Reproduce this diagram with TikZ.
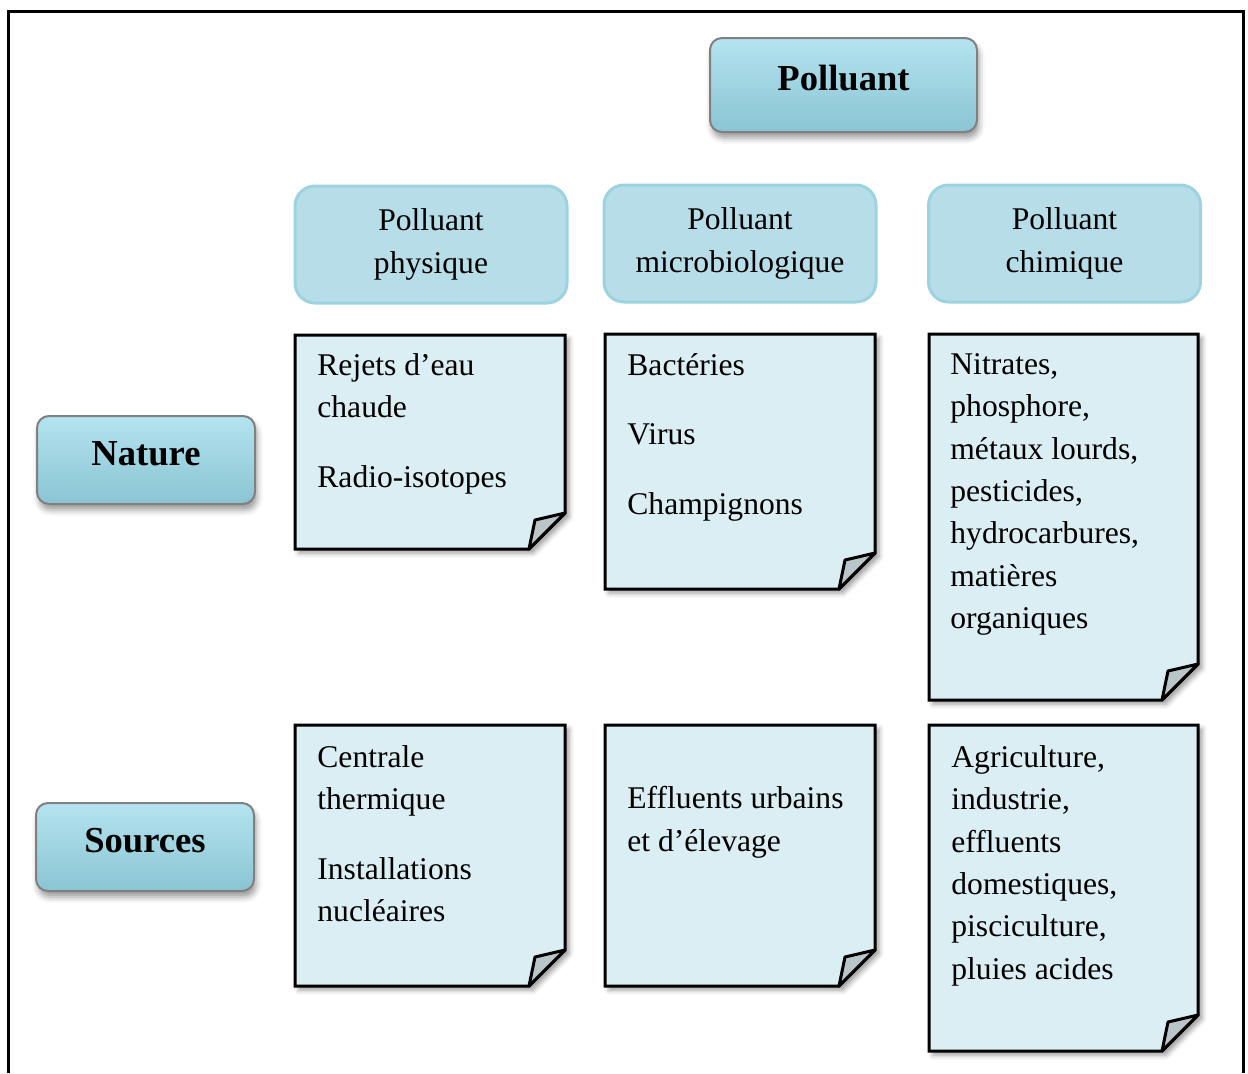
\documentclass[tikz,border=0pt]{standalone}
\usepackage{fontspec}
\setmainfont{Liberation Serif}
\usetikzlibrary{shadows.blur}
\definecolor{tbtop}{HTML}{B4E4EF}
\definecolor{tbmid}{HTML}{93CDDC}
\definecolor{tbbot}{HTML}{8AC4D3}
\definecolor{hdfill}{HTML}{B7DEE8}
\definecolor{hdline}{HTML}{9DD3E1}
\definecolor{ntfill}{HTML}{DAEEF3}
\definecolor{fdfill}{HTML}{BAC5C9}
\tikzset{
    TB/.style ={rectangle, rounded corners=6pt, draw=gray, line width=1pt, top color=tbtop, middle color=tbmid, bottom color=tbbot,
                blur shadow={shadow xshift=1pt, shadow yshift=-3pt, shadow blur radius=3pt}, text height=12.6pt, text depth=7pt,
                font=\fontsize{18.3}{22}\selectfont\bfseries},
    HD/.style ={rectangle, rounded corners=10pt, draw=hdline, line width=1.5pt, fill=hdfill, align=center,
                minimum width=136pt, minimum height=58.5pt, font=\fontsize{15.8}{21.2}\selectfont},
    NB/.style ={draw, line width=1.5pt, fill=ntfill, blur shadow={shadow xshift=2pt, shadow yshift=-2pt, shadow blur radius=2.5pt}},
    FD/.style ={draw, line width=1.5pt, fill=fdfill, line join=round},
    TX/.style ={anchor=north west, inner sep=0pt, align=left, font=\fontsize{15.8}{21.2}\selectfont, execute at begin node=\strut}}
% note card with folded corner
\newcommand{\notecard}[4]{%
    \draw[NB] (#1,#2) -- (#3,#2) -- (#3,#4-36) -- (#3-36,#4) -- (#1,#4) -- cycle;
    \draw[FD] (#3-36,#4) -- (#3-30,#4-29) -- (#3,#4-36) -- cycle;}

\begin{document}
\begin{tikzpicture}[x=0.5pt,y=-0.5pt]
        \useasboundingbox (0,0) rectangle (1248,1073);
        \draw[line width=1.5pt] (8,1073) -- (8,11) -- (1243,11) -- (1243,1073);
        \node[TB, minimum width=133.5pt, minimum height=47pt] (P) at (843.5,85){Polluant};
        \node[TB, minimum width=109pt, minimum height=44pt] (N) at (146,460){Nature};
        \node[TB, minimum width=109pt, minimum height=44pt] (S) at (145,847){Sources};
        \node[HD] (H1) at (431,244.5){Polluant\\physique};
        \node[HD] (H2) at (740,243.5){Polluant\\microbiologique};
        \node[HD] (H3) at (1064.5,243.5){Polluant\\chimique};
        \notecard{295}{335}{565}{549}
        \notecard{605}{334}{875}{589}
        \notecard{929}{334}{1198}{700}
        \notecard{295}{725}{565}{986}
        \notecard{605}{725}{875}{986}
        \notecard{929}{725}{1198}{1051}
        \node[TX] (T11) at (317,353){Rejets d’eau\\chaude\\[13.5pt]Radio-isotopes};
        \node[TX] (T12) at (627,353){Bactéries\\[13.5pt]Virus\\[13.5pt]Champignons};
        \node[TX] (T13) at (950,353){Nitrates,\\phosphore,\\métaux lourds,\\pesticides,\\hydrocarbures,\\matières\\organiques};
        \node[TX] (T21) at (317,745){Centrale\\thermique\\[13.5pt]Installations\\nucléaires};
        \node[TX] (T22) at (627,786){Effluents urbains\\et d’élevage};
        \node[TX] (T23) at (951,745){Agriculture,\\industrie,\\effluents\\domestiques,\\pisciculture,\\pluies acides};
    \end{tikzpicture}
\end{document}
